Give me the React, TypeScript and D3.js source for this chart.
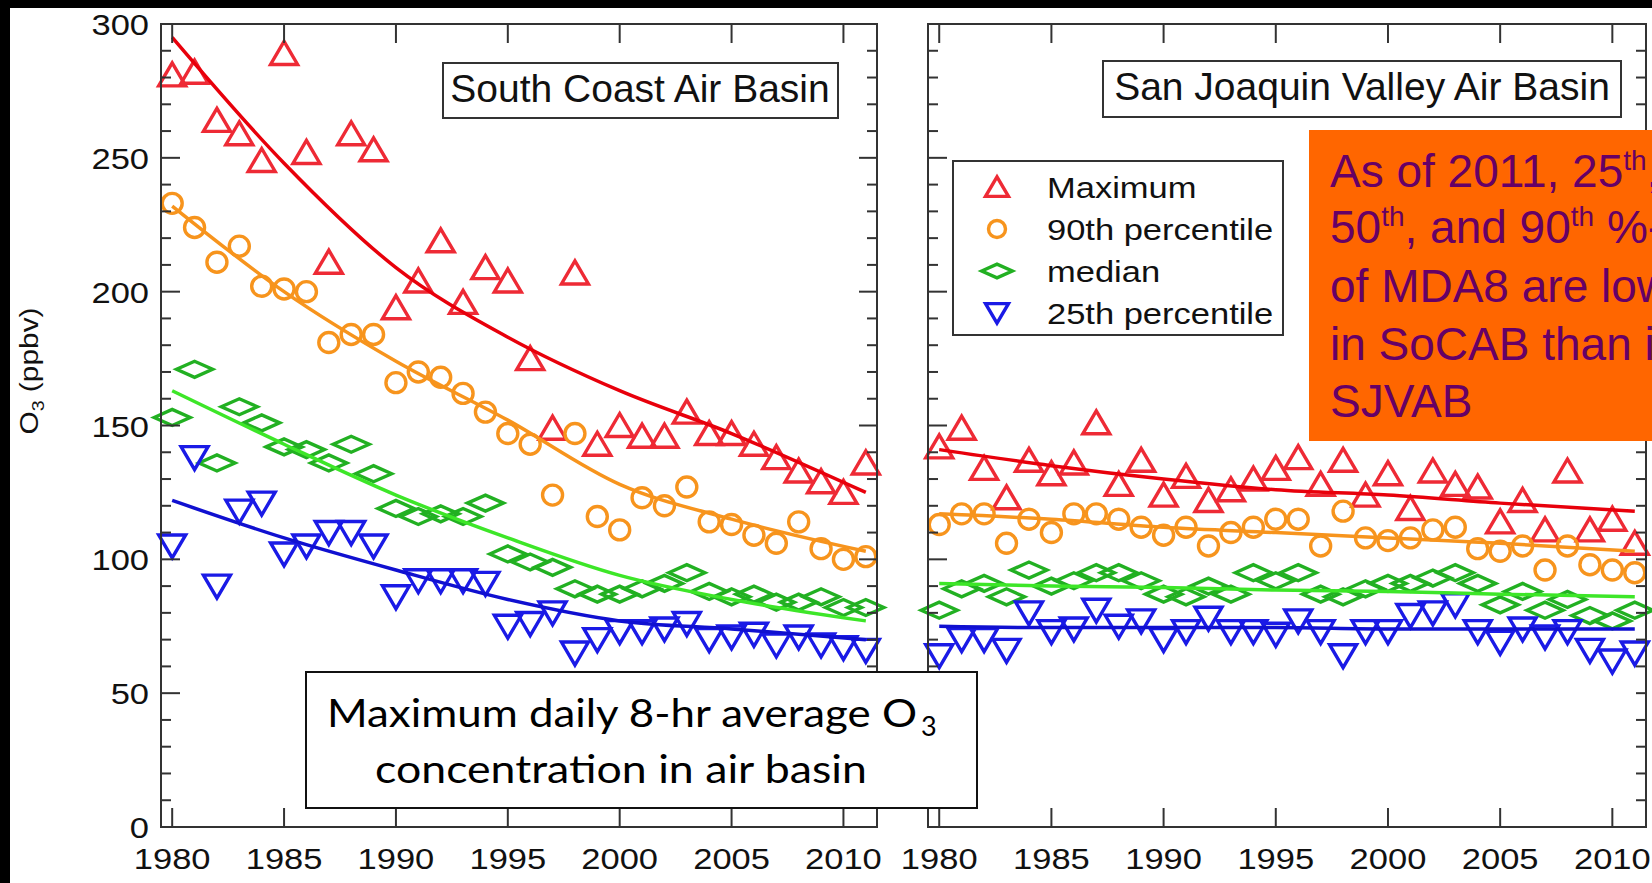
import React from 'react';
import * as d3 from 'd3';

// years 1980..2011
const years = d3.range(1980, 2012);
const fitYears = [1980, 1985, 1990, 1995, 2000, 2005, 2011];
const xTickYears = [1980, 1985, 1990, 1995, 2000, 2005, 2010];
const yTickLabels = [0, 50, 100, 150, 200, 250, 300];

// South Coast Air Basin
const scMax = [281, 282, 264, 259, 249, 289, 252, 211, 259, 253, 194, 204, 219, 196, 209, 204, 175, 149, 207, 143, 150, 146, 146, 155, 147, 147, 143, 138, 133, 129, 125, 136];
const sc90 = [233, 224, 211, 217, 202, 201, 200, 181, 184, 184, 166, 170, 168, 162, 155, 147, 143, 124, 147, 116, 111, 123, 120, 127, 114, 113, 109, 106, 114, 104, 100, 101];
const scMed = [153, 171, 136, 157, 151, 142, 141, 136, 143, 132, 119, 116, 117, 116, 121, 102, 99, 97, 89, 87, 87, 89, 91, 95, 88, 86, 87, 84, 84, 86, 82, 82];
const sc25 = [105, 138, 90, 118, 121, 102, 105, 110, 110, 105, 86, 92, 92, 92, 91, 75, 76, 80, 65, 70, 73, 73, 74, 76, 70, 71, 72, 68, 71, 68, 67, 66];
const scMaxFit = [295, 248, 209, 183, 163, 147, 125];
const sc90Fit = [232, 200, 174, 152, 128, 115, 103];
const scMedFit = [163, 143, 124, 108, 94, 85, 77];
const sc25Fit = [122, 108, 96, 85, 77, 74, 70];

// San Joaquin Valley Air Basin
const sjMax = [142, 149, 134, 123, 137, 132, 136, 151, 128, 137, 124, 131, 122, 126, 130, 134, 138, 128, 137, 124, 132, 119, 133, 128, 127, 114, 122, 111, 133, 111, 115, 106];
const sj90 = [113, 117, 117, 106, 115, 110, 117, 117, 115, 112, 109, 112, 105, 110, 112, 115, 115, 105, 118, 108, 107, 108, 111, 112, 104, 103, 105, 96, 105, 98, 96, 95];
const sjMed = [81, 89, 91, 86, 96, 90, 92, 95, 95, 92, 87, 86, 90, 87, 95, 92, 95, 87, 86, 89, 91, 91, 93, 95, 91, 83, 88, 81, 85, 79, 77, 81];
const sj25 = [64, 70, 70, 66, 80, 73, 74, 81, 75, 77, 70, 73, 78, 73, 73, 72, 77, 73, 64, 73, 73, 79, 80, 83, 73, 69, 74, 71, 73, 66, 62, 65];
const sjMaxFit = [141, 135, 130, 126, 124, 121, 118];
const sj90Fit = [117, 115, 112, 110, 108, 106, 103];
const sjMedFit = [91, 90, 89.5, 88.5, 88, 87, 86];
const sj25Fit = [75, 74.5, 74.5, 74.5, 74, 74, 74];

const seriesNames = ['Maximum', '90th percentile', 'median', '25th percentile'];
const markerColors = ['#ee2a35', '#f7941d', '#22b022', '#1a1ae6'];
const lineColors = ['#e8000b', '#f7941d', '#3de628', '#1010d0'];
const shapes = ['up', 'circle', 'diamond', 'down'];

const FONT = '"Liberation Sans", Arial, Helvetica, sans-serif';
const SX = 1.15; // axis text in the figure is a bit wide

function symbolPath(shape, s = 1) {
  if (shape === 'up') return `M${-13.5 * s},${11 * s}L${13.5 * s},${11 * s}L0,${-12 * s}Z`;
  if (shape === 'down') return `M${-13.5 * s},${-11 * s}L${13.5 * s},${-11 * s}L0,${12 * s}Z`;
  if (shape === 'diamond') return `M${-18 * s},0L0,${-8 * s}L${18 * s},0L0,${8 * s}Z`;
  return null;
}

function Marker({ shape, x, y, color, s = 1 }) {
  if (shape === 'circle') {
    return <circle cx={x} cy={y} r={10 * s} fill="none" stroke={color} strokeWidth={3.4} />;
  }
  return (
    <path d={symbolPath(shape, s)} transform={`translate(${x},${y})`} fill="none" stroke={color} strokeWidth={3.4} strokeLinejoin="miter" />
  );
}

const y = d3.scaleLinear().domain([0, 300]).range([827, 24]);

const panels = [
  { key: 'sc', x0: 161, x1: 877, data: [scMax, sc90, scMed, sc25], fits: [scMaxFit, sc90Fit, scMedFit, sc25Fit], yLabels: true, rightMajor: 18 },
  { key: 'sj', x0: 928, x1: 1646, data: [sjMax, sj90, sjMed, sj25], fits: [sjMaxFit, sj90Fit, sjMedFit, sj25Fit], yLabels: false, rightMajor: 10 },
];

function Panel({ p }) {
  const x = d3.scaleLinear().domain([1979.5, 2011.5]).range([p.x0, p.x1]);
  const [y0, y1] = y.range();
  const yTicks = d3.range(0, 301, 10);
  const line = d3.line().x((d) => x(d[0])).y((d) => y(d[1])).curve(d3.curveMonotoneX);
  return (
    <g>
      {p.data.map((vals, i) => (
        <g key={'s' + i}>
          {vals.map((v, j) => (
            <Marker key={j} shape={shapes[i]} x={x(years[j])} y={y(v)} color={markerColors[i]} />
          ))}
        </g>
      ))}
      {p.fits.map((vals, i) => (
        <path key={'f' + i} d={line(vals.map((v, j) => [fitYears[j], v]))} fill="none" stroke={lineColors[i]} strokeWidth={3.5} />
      ))}
      {/* frame */}
      <rect x={p.x0} y={y1} width={p.x1 - p.x0} height={y0 - y1} fill="none" stroke="#333" strokeWidth={2} />
      {yTicks.map((t) => {
        const major = t % 50 === 0;
        const len = major ? 19 : 10;
        const rlen = major ? p.rightMajor : 10;
        return (
          <g key={'yt' + t} stroke="#333" strokeWidth={2}>
            <line x1={p.x0} x2={p.x0 + len} y1={y(t)} y2={y(t)} />
            <line x1={p.x1} x2={p.x1 - rlen} y1={y(t)} y2={y(t)} />
          </g>
        );
      })}
      {xTickYears.map((yr) => (
        <g key={'xt' + yr} stroke="#333" strokeWidth={2}>
          <line x1={x(yr)} x2={x(yr)} y1={y0} y2={y0 - 19} />
          <line x1={x(yr)} x2={x(yr)} y1={y1} y2={y1 + 19} />
        </g>
      ))}
      {xTickYears.map((yr) => (
        <text key={'xl' + yr} transform={`translate(${x(yr)},869) scale(${SX},1)`} textAnchor="middle" fontSize={30} fontFamily={FONT} fill="#111">
          {yr}
        </text>
      ))}
      {p.yLabels &&
        yTickLabels.map((t) => (
          <text key={'yl' + t} transform={`translate(149,${y(t) + 11}) scale(${SX},1)`} textAnchor="end" fontSize={30} fontFamily={FONT} fill="#111">
            {t}
          </text>
        ))}
    </g>
  );
}

export default function App() {
  const legendRows = [187, 229, 271, 313];
  return (
    <div style={{ position: 'absolute', left: 0, top: 0, width: 1652, height: 883, overflow: 'hidden' }}>
      <svg width={1652} height={883} style={{ display: 'block' }}>
        <rect x={0} y={0} width={1652} height={883} fill="#000" />
        <rect x={10} y={8} width={1642} height={875} fill="#fff" />

        {panels.map((p) => (
          <Panel key={p.key} p={p} />
        ))}

        {/* y axis title */}
        <text transform={`translate(38,371) rotate(-90) scale(${SX},1)`} textAnchor="middle" fontSize={26} fontFamily={FONT} fill="#111">
          O<tspan fontSize={17} dy={6}>3</tspan>
          <tspan dy={-6}> (ppbv)</tspan>
        </text>

        {/* panel titles */}
        <rect x={443} y={63} width={395} height={55} fill="#fff" stroke="#333" strokeWidth={2} />
        <text x={640} y={102} textAnchor="middle" fontSize={39} fontFamily={FONT} fill="#111">
          South Coast Air Basin
        </text>
        <rect x={1103} y={61} width={518} height={56} fill="#fff" stroke="#333" strokeWidth={2} />
        <text x={1362} y={100} textAnchor="middle" fontSize={39} fontFamily={FONT} fill="#111">
          San Joaquin Valley Air Basin
        </text>

        {/* legend */}
        <rect x={953} y={161} width={330} height={174} fill="#fff" stroke="#333" strokeWidth={2} />
        {seriesNames.map((name, i) => (
          <g key={name}>
            <Marker shape={shapes[i]} x={997} y={legendRows[i]} color={markerColors[i]} s={0.85} />
            <text transform={`translate(1047,${legendRows[i] + 10.5}) scale(${SX},1)`} fontSize={30} fontFamily={FONT} fill="#111">
              {name}
            </text>
          </g>
        ))}

        {/* orange note, runs past the right edge as in the slide */}
        <rect x={1309} y={130} width={360} height={311} fill="#ff6600" />
        <g fontSize={46} fontFamily={FONT} fill="#660066">
          <text x={1330} y={187}>
            As of 2011, 25<tspan fontSize={28} dy={-17}>th</tspan>
            <tspan dy={17}>,</tspan>
          </text>
          <text x={1330} y={243}>
            50<tspan fontSize={28} dy={-17}>th</tspan>
            <tspan dy={17}>, and 90</tspan>
            <tspan fontSize={28} dy={-17}>th</tspan>
            <tspan dy={17}> %-iles</tspan>
          </text>
          <text x={1330} y={302}>of MDA8 are lower</text>
          <text x={1330} y={360}>in SoCAB than in</text>
          <text x={1330} y={417}>SJVAB</text>
        </g>

        {/* caption box */}
        <rect x={306} y={672} width={671} height={136} fill="#fff" stroke="#111" strokeWidth={2} />
        <g fontFamily="Lato, 'Open Sans', sans-serif" fill="#000">
          <text x={327} y={727} fontSize={39} textLength={590} lengthAdjust="spacingAndGlyphs">
            Maximum daily 8-hr average O
          </text>
          <text x={921} y={736} fontSize={27}>3</text>
          <text x={375} y={783} fontSize={39} textLength={492} lengthAdjust="spacingAndGlyphs">
            concentration in air basin
          </text>
        </g>
      </svg>
    </div>
  );
}
